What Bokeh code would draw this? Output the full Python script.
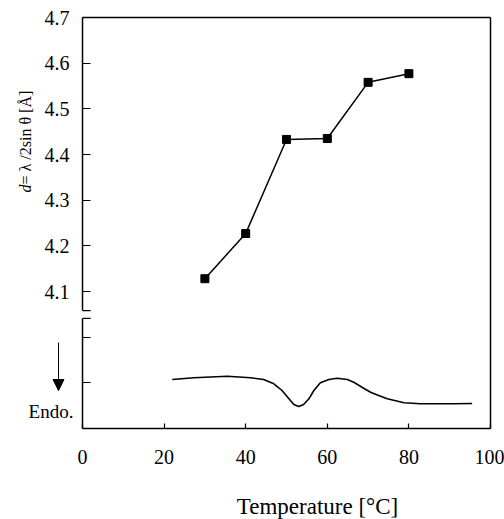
import numpy as np
from bokeh.plotting import figure
from bokeh.models import Range1d, LinearAxis, FixedTicker, Label, Arrow, NormalHead
from bokeh.embed import file_html
from bokeh.resources import INLINE

# ---- data ----
temps = [30, 40, 50, 60, 70, 80]
d_spacing = [4.128, 4.227, 4.433, 4.435, 4.558, 4.577]

dsc_temp = [22.0, 27.3, 35.5, 41.2, 44.4, 46.9, 48.9, 50.6, 51.8, 53.0, 54.2,
            55.5, 56.7, 58.3, 60.4, 62.4, 64.9, 66.5, 68.5, 70.6, 72.6, 74.7,
            78.8, 82.8, 91.0, 95.5]
dsc_signal = [4.90, 5.07, 5.23, 5.07, 4.90, 4.47, 3.80, 2.97, 2.40, 2.20, 2.40,
              2.97, 3.80, 4.57, 4.90, 5.03, 4.90, 4.63, 4.13, 3.63, 3.30, 2.97,
              2.57, 2.47, 2.47, 2.50]

x_ticks = [0, 20, 40, 60, 80, 100]
y_ticks_upper = [4.1, 4.2, 4.3, 4.4, 4.5, 4.6, 4.7]
y_ticks_lower = [3.9, 4.0]

FONT = "Liberation Serif"
W, H = 504, 519
# plot box in canvas pixels
BOX_L, BOX_R, BOX_T, BOX_B = 82, 490, 17, 428
X0, X1 = 0, 100
Y0, Y1 = 3.8, 4.7
sx = (BOX_R - BOX_L) / (X1 - X0)
sy = (BOX_B - BOX_T) / (Y1 - Y0)

def dx(px):
    return X0 + (px - BOX_L) / sx

def dy(py):
    return Y1 - (py - BOX_T) / sy

p = figure(width=W, height=H, output_backend="svg", toolbar_location=None,
           x_range=Range1d(dx(0), dx(W)), y_range=Range1d(dy(H), dy(0)),
           x_axis_type=None, y_axis_type=None, min_border=0)
p.outline_line_color = None
p.grid.visible = False
p.background_fill_color = "white"
p.border_fill_color = "white"
p.extra_y_ranges = {"dsc": Range1d(-9.1, 42.8)}

common = dict(axis_line_color="black", axis_line_width=1.5,
              major_tick_line_color="black", major_tick_line_width=1.2,
              minor_tick_line_color=None, major_tick_out=0,
              major_label_text_font=FONT, major_label_text_color="black")

# bottom axis
xa = LinearAxis(fixed_location=Y0, bounds=(X0, X1),
                ticker=FixedTicker(ticks=x_ticks), major_tick_in=5,
                major_label_standoff=21, major_label_text_font_size="20px",
                **common)
p.add_layout(xa, "below")

# left axis, upper part (with labels)
brk_hi, brk_lo = 4.058, 4.041
ya1 = LinearAxis(fixed_location=X0, bounds=(brk_hi, Y1),
                 ticker=FixedTicker(ticks=y_ticks_upper), major_tick_in=8,
                 major_label_standoff=13, major_label_text_font_size="20px",
                 **common)
p.add_layout(ya1, "left")
# left axis, lower part (DSC): unlabeled ticks
lower_common = dict(common)
lower_common["minor_tick_line_color"] = "black"
ya2 = LinearAxis(fixed_location=X0, bounds=(Y0, brk_lo),
                 ticker=FixedTicker(ticks=[], minor_ticks=y_ticks_lower),
                 minor_tick_in=8, minor_tick_out=0, minor_tick_line_width=1.2,
                 **lower_common)
p.add_layout(ya2, "left")

# top / right frame lines
p.add_layout(LinearAxis(fixed_location=Y1, bounds=(X0, X1),
                        ticker=FixedTicker(ticks=[]), **common), "above")
p.add_layout(LinearAxis(fixed_location=X1, bounds=(Y0, Y1),
                        ticker=FixedTicker(ticks=[]), **common), "right")

# axis-break brackets
p.segment(x0=[X0, X0], y0=[brk_hi, brk_lo], x1=[X0 + 2, X0 + 2],
          y1=[brk_hi, brk_lo], line_color="black", line_width=1.2)

# DSC curve
p.line(dsc_temp, dsc_signal, y_range_name="dsc", line_color="black",
       line_width=1.6, line_join="round")

# d-spacing data
p.line(temps, d_spacing, line_color="black", line_width=1.5)
p.scatter(temps, d_spacing, marker="square", size=8, color="black")

# y axis title
p.add_layout(Label(x=dx(25), y=dy(192), text="d", angle=np.pi / 2,
                   text_font=FONT, text_font_style="italic",
                   text_font_size="16px", text_align="left",
                   text_baseline="middle", text_color="black"))
p.add_layout(Label(x=dx(25), y=dy(184), text="= λ /2sin θ [Å]",
                   angle=np.pi / 2, text_font=FONT, text_font_size="16px",
                   text_align="left", text_baseline="middle",
                   text_color="black"))

# x axis title
p.add_layout(Label(x=dx(317), y=dy(506), text="Temperature [°C]",
                   text_font=FONT, text_font_size="23px", text_align="center",
                   text_baseline="alphabetic", text_color="black"))

# Endo. arrow and label
p.add_layout(Arrow(end=NormalHead(size=11, fill_color="black",
                                  line_color="black"),
                   x_start=dx(58), y_start=dy(342), x_end=dx(58), y_end=dy(390),
                   line_width=1, line_color="black"))
p.add_layout(Label(x=dx(50.5), y=dy(411), text="Endo.", text_font=FONT,
                   text_font_size="19px", text_align="center",
                   text_baseline="middle", text_color="black"))

open("out.html", "w").write(file_html(p, INLINE))
